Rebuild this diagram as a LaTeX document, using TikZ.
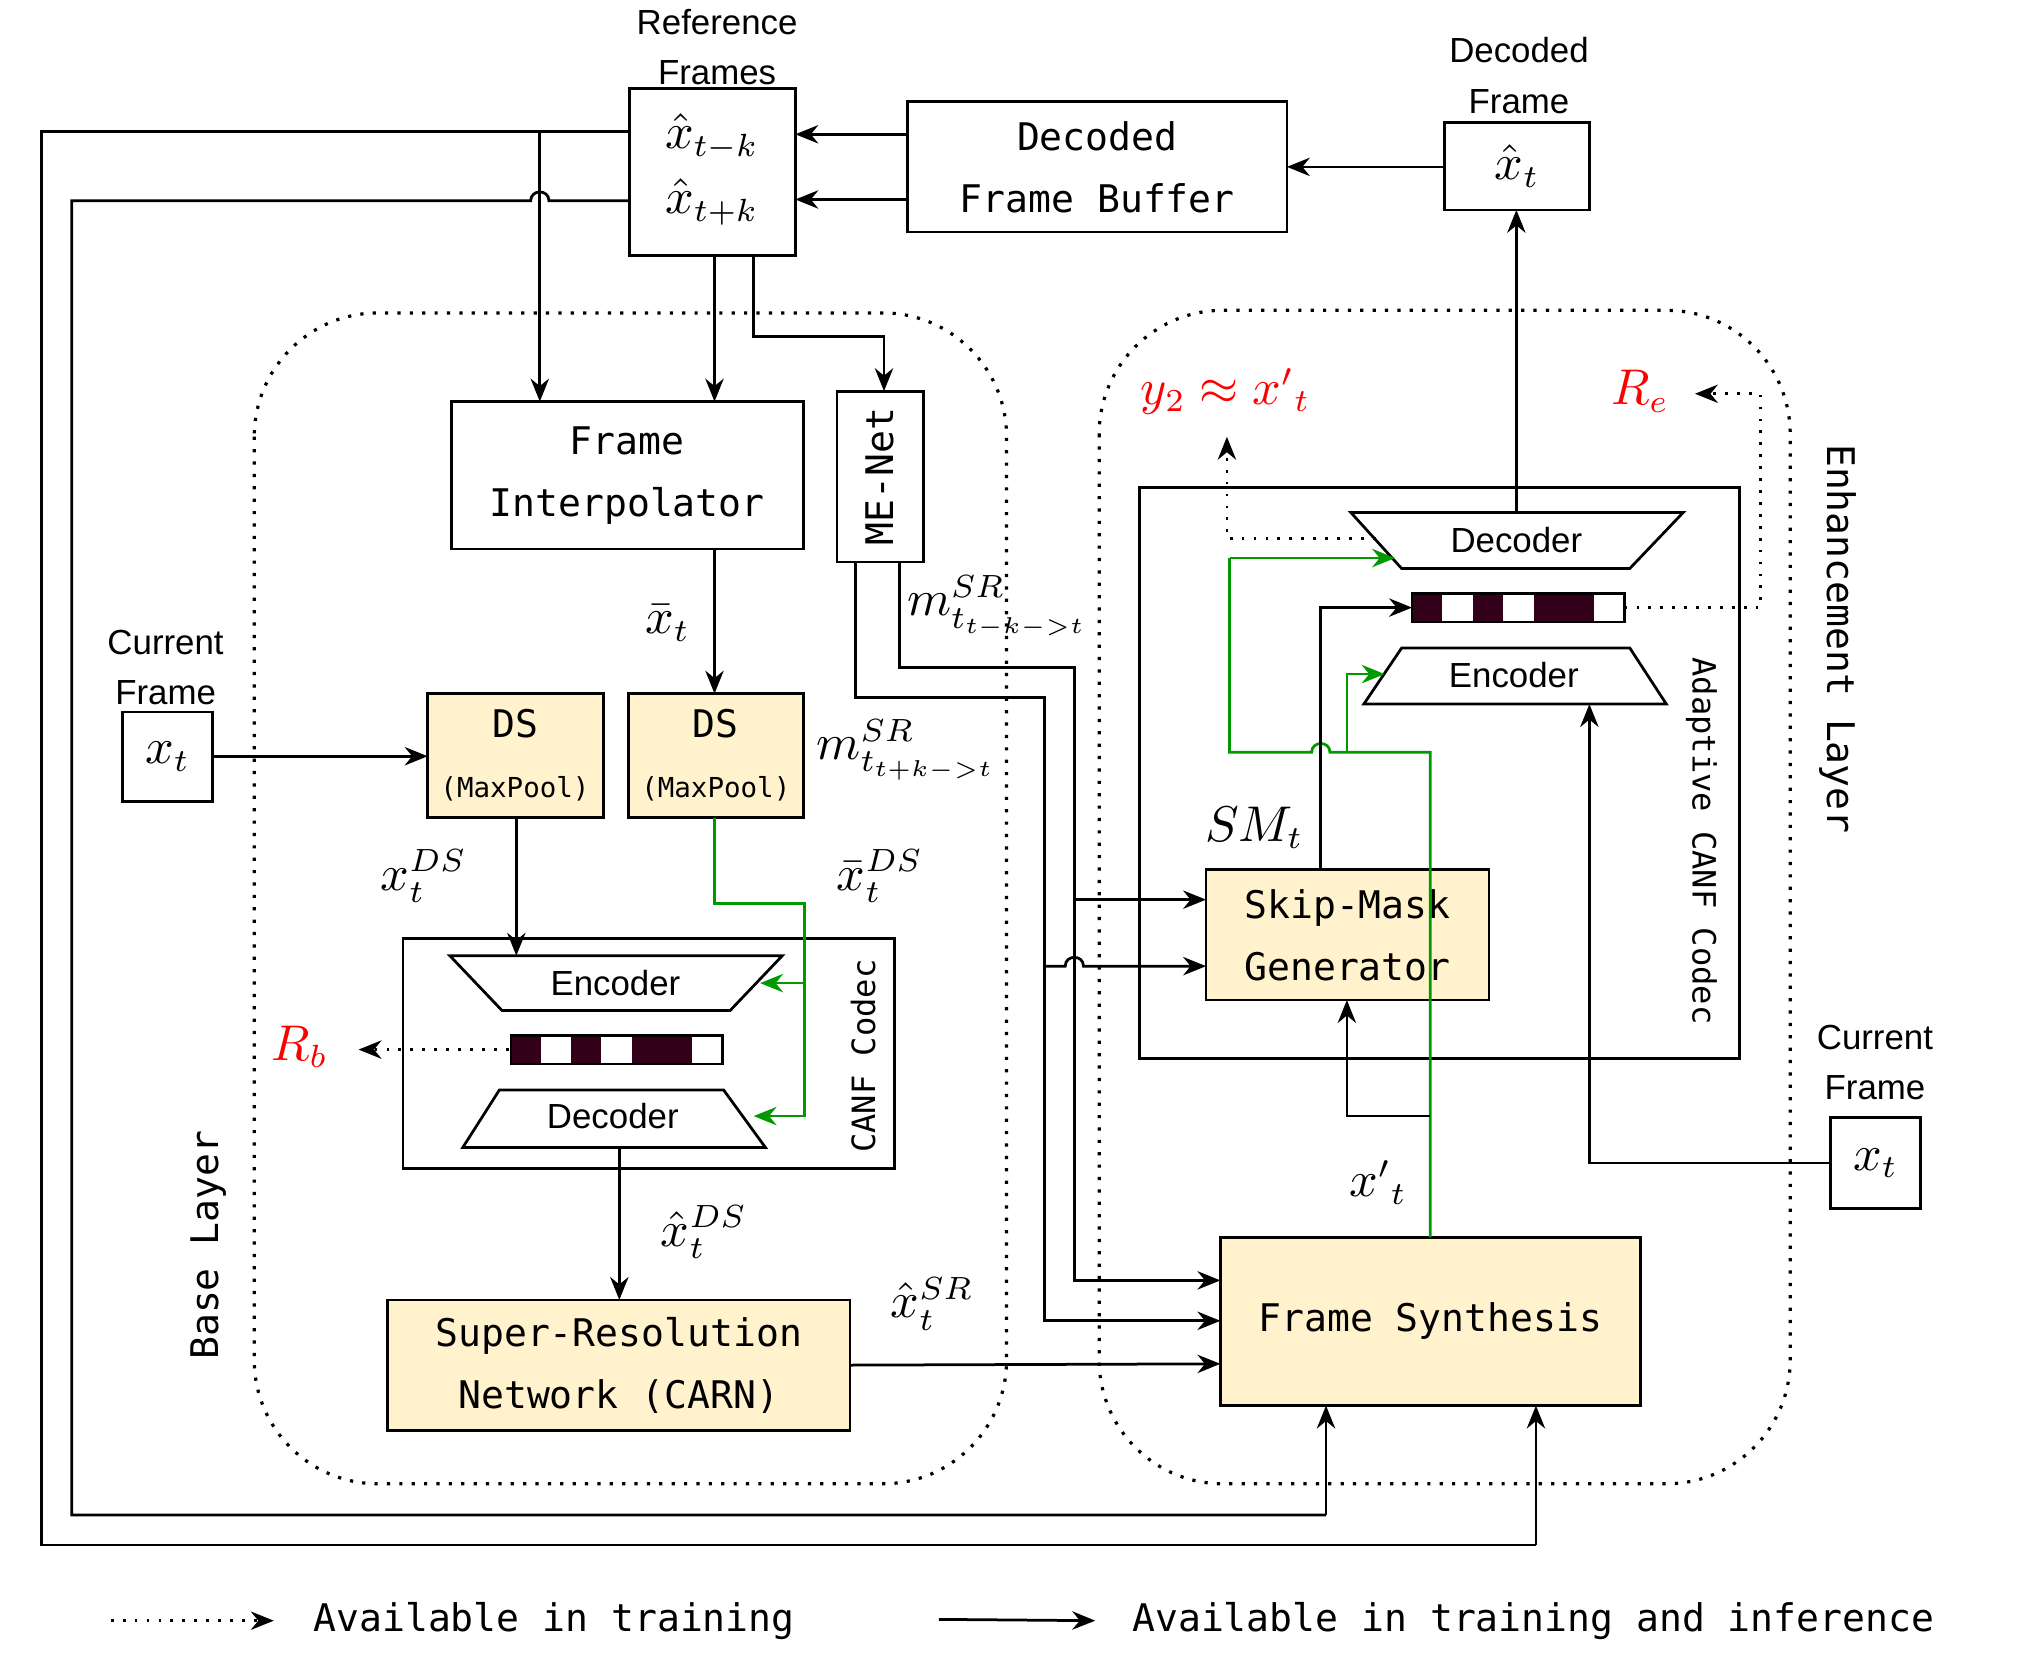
\documentclass[tikz,border=0pt]{standalone}
\usepackage{fontspec}
\setmainfont{Liberation Sans}
\setmonofont{DejaVu Sans Mono}
\usetikzlibrary{arrows.meta,shapes.geometric}
\definecolor{boxy}{HTML}{FFF2CC}
\definecolor{lat}{HTML}{33001A}
\definecolor{grn}{HTML}{009900}
\begin{document}
\begin{tikzpicture}[x=0.01cm,y=-0.01cm,
  ln/.style={line width=0.6pt,-{Stealth[length=5pt,width=4pt]}},
  dt/.style={line width=0.6pt,dotted,-{Stealth[length=5pt,width=4pt]}},
  gr/.style={ln,grn},
  bx/.style={draw,line width=0.6pt},
  mono/.style={font=\ttfamily\fontsize{8.3}{13.5}\selectfont,align=center},
  sans/.style={font=\fontsize{7.6}{11}\selectfont,align=center},
  mth/.style={font=\fontsize{10.5}{13}\selectfont},
  region/.style={draw,dotted,line width=0.7pt,rounded corners=27pt}]
\useasboundingbox (0,0) rectangle (1560,1288);
% regions
\draw[region] (195,240) rectangle (772,1138);
\draw[region] (843,238) rectangle (1373,1138);
% boxes
\draw[bx] (483,68) rectangle (610,196);
\node[mth] (rk) at (546,105) {$\hat{x}_{t-k}$};
\node[mth] (rp) at (546,155) {$\hat{x}_{t+k}$};
\node[sans] at (550,36) {Reference\\Frames};
\draw[bx] (696,78) rectangle node[mono] (dfb) {Decoded\\Frame Buffer} (987,178);
\draw[bx] (1108,94) rectangle node[mth] (df) {$\hat{x}_t$} (1219,161);
\node[sans] at (1165,58) {Decoded\\Frame};
\draw[bx] (346,308) rectangle node[mono] (fi) {Frame\\Interpolator} (616,421);
\draw[bx] (642,300) rectangle node[mono,rotate=90] (me) {ME-Net} (708,431);
\draw[bx] (94,546) rectangle node[mth] (cx) {$x_t$} (163,615);
\node[sans] at (127,512) {Current\\Frame};
\draw[bx,fill=boxy] (328,532) rectangle (463,627);
\node[mono] at (395,555) {DS}; \node[mono,font=\ttfamily\fontsize{6}{8}\selectfont] at (395,605) {(MaxPool)};
\draw[bx,fill=boxy] (482,532) rectangle (616,627);
\node[mono] at (549,555) {DS}; \node[mono,font=\ttfamily\fontsize{6}{8}\selectfont] at (549,605) {(MaxPool)};
% base CANF
\draw[bx] (309,720) rectangle (686,896);
\draw[bx] (345,733) -- (600,733) -- (560,775) -- (385,775) -- cycle;
\node[sans] (be) at (472,754) {Encoder};
\draw[bx] (383,836) -- (555,836) -- (587,880) -- (355,880) -- cycle;
\node[sans] (bd) at (470,856) {Decoder};
\foreach \i/\c in {0/lat,1/white,2/lat,3/white,4/lat,5/lat,6/white}
  \fill[\c] (392+\i*23.1,794) rectangle ++(23.1,22);
\draw[bx] (392,794) rectangle (554,816);
\node[mono,rotate=90,font=\ttfamily\fontsize{7}{9}\selectfont] at (662,810) {CANF Codec};
\node[mth,red] at (230,803) {$R_b$};
\draw[dt] (390,805) -- (275,805);
\draw[bx,fill=boxy] (297,997) rectangle node[mono] (sr) {Super-Resolution\\Network (CARN)} (652,1097);
\node[mono,rotate=90] at (160,955) {Base Layer};
% enhancement
\draw[bx] (874,374) rectangle (1334,812);
\draw[bx] (1036,393) -- (1291,393) -- (1250,436) -- (1075,436) -- cycle;
\node[sans] (ed) at (1163,414) {Decoder};
\foreach \i/\c in {0/lat,1/white,2/lat,3/white,4/lat,5/lat,6/white}
  \fill[\c] (1083+\i*23.3,455) rectangle ++(23.3,22);
\draw[bx] (1083,455) rectangle (1246,477);
\draw[bx] (1075,497) -- (1250,497) -- (1278,540) -- (1046,540) -- cycle;
\node[sans] (ee) at (1161,518) {Encoder};
\node[mono,rotate=-90,font=\ttfamily\fontsize{7}{9}\selectfont] at (1305,645) {Adaptive CANF Codec};
\node[mono,rotate=-90,font=\ttfamily\fontsize{8.3}{11}\selectfont] at (1410,490) {Enhancement Layer};
\draw[bx,fill=boxy] (925,667) rectangle node[mono] (smg) {Skip-Mask\\Generator} (1142,767);
\node[mth] at (962,635) {$SM_t$};
\draw[bx,fill=boxy] (936,949) rectangle node[mono] (fs) {Frame Synthesis} (1258,1078);
\draw[bx] (1404,857) rectangle node[mth] (cx2) {$x_t$} (1473,927);
\node[sans] at (1438,815) {Current\\Frame};
\node[mth,red] at (940,300) {$y_2\approx {x'}_t$};
\node[mth,red] at (1258,300) {$R_e$};
% labels
\node[mth] at (512,478) {$\bar{x}_t$};
\node[mth] at (325,672) {$x_t^{DS}$};
\node[mth] at (675,672) {$\bar{x}_t^{DS}$};
\node[mth] at (540,945) {$\hat{x}_t^{DS}$};
\node[mth] at (715,1000) {$\hat{x}_t^{SR}$};
\node[mth] at (765,465) {$m^{SR}_{t_{t-k->t}}$};
\node[mth] at (695,575) {$m^{SR}_{t_{t+k->t}}$};
\node[mth] at (1057,907) {${x'}_t$};
% connectors
\draw[ln] (696,103) -- (610,103);
\draw[ln] (696,153) -- (610,153);
\draw[ln] (1108,128) -- (987,128);
\draw[ln] (1163,393) -- (1163,161);
\draw[line width=0.6pt] (483,101) -- (32,101) -- (32,1185) -- (1178,1185);
\draw[ln] (1178,1185) -- (1178,1078);
\draw[line width=0.6pt] (483,154) -- (421,154) .. controls (421,145) and (407,145) .. (407,154) -- (55,154) -- (55,1162) -- (1017,1162);
\draw[ln] (1017,1162) -- (1017,1078);
\draw[ln] (414,101) -- (414,308);
\draw[ln] (548,196) -- (548,308);
\draw[ln] (578,196) -- (578,258) -- (678,258) -- (678,300);
\draw[ln] (548,421) -- (548,532);
\draw[ln] (163,580) -- (328,580);
\draw[ln] (396,627) -- (396,733);
\draw[gr] (548,627) -- (548,693) -- (617,693) -- (617,856) -- (578,856);
\draw[gr] (617,754) -- (583,754);
\draw[ln] (475,880) -- (475,997);
\draw[ln] (652,1047) -- (936,1046);
\draw[ln] (656,431) -- (656,535) -- (801,535) -- (801,1013) -- (936,1013);
\draw[ln] (690,431) -- (690,512) -- (824,512) -- (824,982) -- (936,982);
\draw[ln] (824,690) -- (925,690);
\draw[ln] (801,741) -- (817,741) .. controls (817,732) and (831,732) .. (831,741) -- (925,741);
\draw[grn,line width=0.6pt] (1097,949) -- (1097,577) -- (1020,577) .. controls (1020,568) and (1006,568) .. (1006,577) -- (943,577) -- (943,428);
\draw[gr] (943,428) -- (1070,428);
\draw[gr] (1033,577) -- (1033,517) -- (1062,517);
\draw[ln] (1013,667) -- (1013,466) -- (1083,466);
\draw[ln] (1097,856) -- (1033,856) -- (1033,767);
\draw[ln] (1404,892) -- (1219,892) -- (1219,540);
\draw[dt] (1246,466) -- (1350,466) -- (1350,302) -- (1300,302);
\draw[dt] (1055,413) -- (941,413) -- (941,335);
% legend
\draw[dt] (85,1243) -- (210,1243);
\node[mono,anchor=west] at (228,1243) {Available in training};
\draw[ln] (720,1242) -- (840,1243);
\node[mono,anchor=west] at (856,1243) {Available in training and inference};
\end{tikzpicture}
\end{document}
